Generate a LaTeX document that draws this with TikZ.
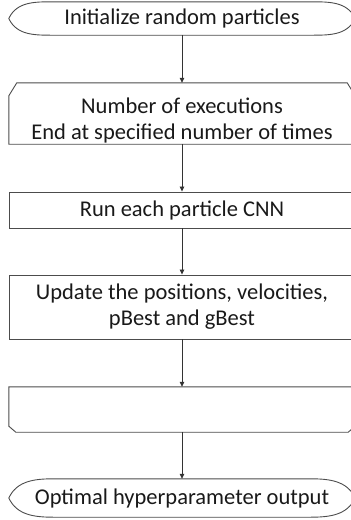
\documentclass[tikz,border=0pt]{standalone}
\usepackage{fontspec}
\setmainfont{Carlito}
\usetikzlibrary{arrows.meta}

\tikzset{
  step text/.style={inner sep=0pt, align=center, text=black!90,
    font=\fontsize{22.5}{26}\selectfont},
  stepbox/.style={step text, minimum width=346pt},
  frame/.style={draw=black!70, line width=0.9pt},
  flowarrow/.style={draw=black!80, line width=0.8pt,
    -{Triangle[length=5pt,width=4.5pt]}},
}

\begin{document}
\begin{tikzpicture}[x=1pt,y=-1pt]
    \useasboundingbox (0,0) rectangle (351,520);
    \clip (0,0) rectangle (351,520);

    % the steps
    \node[stepbox,minimum height=33pt] (init) at (182,18.5) {Initialize random particles};
    \node[stepbox,minimum height=61pt] (loop) at (182,113.5) {};
    \node[step text] (loop-txt) at ([yshift=-7pt]loop.center)
      {Number of executions\\End at specified number of times};
    \node[stepbox,frame,minimum height=36pt] (run) at (182,210) {Run each particle CNN};
    \node[stepbox,frame,minimum height=64pt] (update) at (182,307)
      {Update the positions, velocities,\\pBest and gBest};
    \node[stepbox,minimum height=45pt] (loopend) at (182,409.5) {};
    \node[stepbox,minimum height=38pt] (done) at (182,498) {Optimal hyperparameter output};

    % terminators
    \foreach \t in {init,done}
      \draw[frame] (\t.west)
        to[out=65,in=180] ([xshift=45pt]\t.north west)
        -- ([xshift=-45pt]\t.north east)
        to[out=0,in=115] (\t.east)
        to[out=-115,in=0] ([xshift=-45pt]\t.south east)
        -- ([xshift=45pt]\t.south west)
        to[out=180,in=-65] cycle;

    % loop limits
    \draw[frame] (loop.south west)
      -- ([yshift=-13pt]loop.north west)
      -- ([xshift=8pt]loop.north west)
      -- ([xshift=-8pt]loop.north east)
      -- ([yshift=-13pt]loop.north east)
      -- (loop.south east) -- cycle;
    \draw[frame] (loopend.north west)
      -- ([yshift=6pt]loopend.south west)
      -- ([xshift=7pt]loopend.south west)
      -- ([xshift=-7pt]loopend.south east)
      -- ([yshift=6pt]loopend.south east)
      -- (loopend.north east) -- cycle;

    % arrows
    \draw[flowarrow] (init.south) -- (loop.north);
    \draw[flowarrow] (loop.south) -- (run.north);
    \draw[flowarrow] (run.south) -- (update.north);
    \draw[flowarrow] (update.south) -- (loopend.north);
    \draw[flowarrow] (loopend.south) -- (done.north);
\end{tikzpicture}
\end{document}
